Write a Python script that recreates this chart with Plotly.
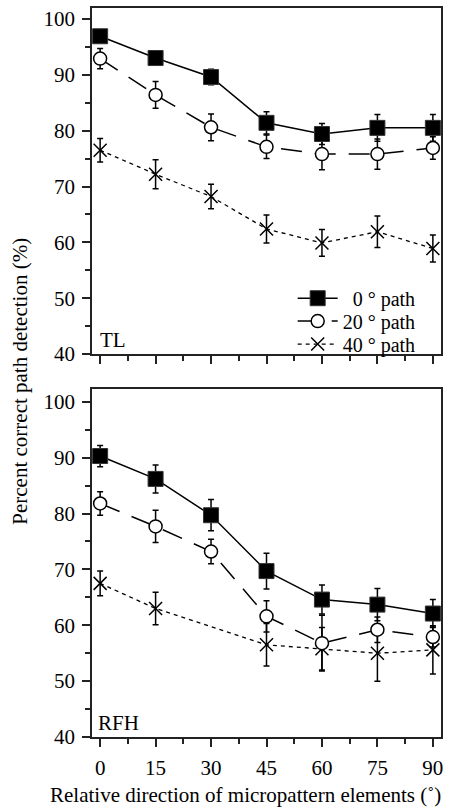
import plotly.graph_objects as go
from plotly.subplots import make_subplots

x_dir = [0, 15, 30, 45, 60, 75, 90]
series_names = ["\u00a0\u00a00 \u00b0 path", "20 \u00b0 path", "40 \u00b0 path"]

# TL panel
tl_0 = [96.9, 93.0, 89.6, 81.4, 79.4, 80.5, 80.5]
tl_0_err = [1.0, 0.9, 1.4, 2.0, 1.9, 2.4, 2.4]
tl_20 = [92.9, 86.4, 80.6, 77.1, 75.8, 75.8, 76.9]
tl_20_err = [1.8, 2.4, 2.4, 2.1, 2.8, 2.7, 2.0]
tl_40 = [76.5, 72.2, 68.2, 62.4, 59.9, 61.9, 58.9]
tl_40_err = [2.1, 2.6, 2.2, 2.5, 2.4, 2.8, 2.4]

# RFH panel
rfh_0 = [90.3, 86.2, 79.7, 69.7, 64.6, 63.7, 62.1]
rfh_0_err = [1.9, 2.5, 2.8, 3.2, 2.6, 2.9, 2.5]
rfh_20 = [81.8, 77.7, 73.2, 61.6, 56.8, 59.2, 57.9]
rfh_20_err = [2.1, 2.9, 2.2, 2.8, 5.0, 2.3, 1.8]
rfh_40 = [67.5, 63.0, None, 56.5, 55.8, 55.0, 55.6]
rfh_40_err = [2.2, 2.9, 0, 3.8, 3.8, 5.0, 4.3]

FONT = "Liberation Serif, Times New Roman, serif"
BLACK = "black"

styles = [
    dict(line=dict(color=BLACK, width=1.5, dash="solid"),
         marker=dict(symbol="square", size=15, color=BLACK, line=dict(color="#333", width=1))),
    dict(line=dict(color=BLACK, width=1.5, dash="21px,13px"),
         marker=dict(symbol="circle", size=13, color="white", line=dict(color=BLACK, width=1.5))),
    dict(line=dict(color=BLACK, width=1.3, dash="4px,4px"),
         marker=dict(symbol="x-thin-open", size=13, color=BLACK, line=dict(color=BLACK, width=1.5))),
]
legend_ids = ["legend", "legend2", "legend3"]

fig = make_subplots(rows=2, cols=1, vertical_spacing=0.05)

panels = [
    (1, [(tl_0, tl_0_err), (tl_20, tl_20_err), (tl_40, tl_40_err)]),
    (2, [(rfh_0, rfh_0_err), (rfh_20, rfh_20_err), (rfh_40, rfh_40_err)]),
]
order = [2, 1, 0]
for row, data in panels:
    for i in order:
        y, e = data[i]
        fig.add_trace(go.Scatter(
            x=x_dir, y=y, mode="lines+markers", name=series_names[i],
            connectgaps=True,
            error_y=dict(type="data", array=e, visible=True, color=BLACK, thickness=1.5, width=3),
            showlegend=(row == 1), legend=legend_ids[i],
            **styles[i]
        ), row=row, col=1)

axis_common = dict(
    showline=True, linecolor="#222", linewidth=1.5, mirror=True,
    ticks="outside", tickcolor="#222", tickwidth=1.5, ticklen=8,
    showgrid=False, zeroline=False, ticklabelstandoff=3,
    tickfont=dict(family=FONT, size=21, color=BLACK),
)

fig.update_xaxes(range=[-2.2, 92.2], tick0=0, dtick=15,
                 minor=dict(dtick=7.5, ticklen=5, tickcolor="#222", tickwidth=1.5, ticks="outside"),
                 **axis_common)
fig.update_xaxes(showticklabels=False, row=1, col=1)
fig.update_yaxes(tick0=40, dtick=10,
                 minor=dict(dtick=5, ticklen=5, tickcolor="#222", tickwidth=1.5, ticks="outside"),
                 **axis_common)
fig.update_yaxes(range=[40, 101.96], row=1, col=1)
fig.update_yaxes(range=[40, 102.3], row=2, col=1)

fig.update_layout(
    xaxis=dict(domain=[0, 1]), yaxis=dict(domain=[0.5253, 1]),
    xaxis2=dict(domain=[0, 1]), yaxis2=dict(domain=[0, 0.4774]),
)

fig.add_annotation(text="TL", xref="x domain", yref="y domain", x=0.018, y=0.0,
                   xanchor="left", yanchor="bottom", showarrow=False,
                   font=dict(family=FONT, size=21, color=BLACK))
fig.add_annotation(text="RFH", xref="x2 domain", yref="y2 domain", x=0.012, y=0.0,
                   xanchor="left", yanchor="bottom", showarrow=False,
                   font=dict(family=FONT, size=21, color=BLACK))
fig.add_annotation(text="Percent correct path detection (%)", xref="paper", yref="paper",
                   x=-0.205, y=0.488, textangle=-90, showarrow=False,
                   xanchor="center", yanchor="middle",
                   font=dict(family=FONT, size=21, color=BLACK))
fig.add_annotation(text="Relative direction of micropattern elements (\u02da)", xref="paper", yref="paper",
                   x=0.441, y=-0.0793, showarrow=False, xanchor="center", yanchor="middle",
                   font=dict(family=FONT, size=21, color=BLACK))

leg_common = dict(xanchor="left", yanchor="middle", bgcolor="rgba(0,0,0,0)",
                  font=dict(family=FONT, size=20, color=BLACK), itemwidth=40)
fig.update_layout(
    width=449, height=809,
    margin=dict(l=92, r=8, t=6, b=72),
    paper_bgcolor="white", plot_bgcolor="white",
    font=dict(family=FONT, size=20, color=BLACK),
    legend=dict(x=0.575, y=0.6019, **leg_common),
    legend2=dict(x=0.575, y=0.5705, **leg_common),
    legend3=dict(x=0.575, y=0.539, **leg_common),
)

fig.write_html("out.html", config={"displayModeBar": False},
               post_script="document.body.style.margin='0px';document.body.style.padding='0px';document.body.style.overflow='hidden';")
